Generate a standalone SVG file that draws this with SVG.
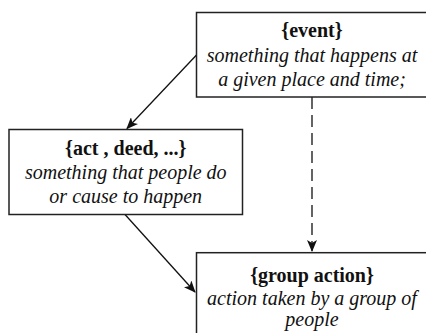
<svg xmlns="http://www.w3.org/2000/svg" width="426" height="333" viewBox="0 0 426 333">
<defs>
<marker id="ah" viewBox="0 0 12 10" refX="11" refY="5" markerWidth="12" markerHeight="10" markerUnits="userSpaceOnUse" orient="auto">
<path d="M0,0 L12,5 L0,10 L3,5 z" fill="#111"/>
</marker>
</defs>
<g id="connectors" fill="none" stroke="#111" stroke-width="1.3">
<line x1="196.5" y1="55" x2="127" y2="128.5" marker-end="url(#ah)"/>
<line x1="125" y1="214.5" x2="195" y2="292" marker-end="url(#ah)"/>
<line x1="312" y1="97" x2="312" y2="251" stroke-dasharray="12,6" marker-end="url(#ah)"/>
</g>
<g id="event">
<rect x="196.5" y="12.5" width="232" height="84.5" fill="#fff" stroke="#222" stroke-width="1.5"/>
<text x="312" y="37" font-family="'Liberation Serif', 'Times New Roman', serif" font-size="20" font-weight="bold" text-anchor="middle" fill="#111">{event}</text>
<text x="312" y="62" font-family="'Liberation Serif', 'Times New Roman', serif" font-size="20" font-style="italic" text-anchor="middle" fill="#111">something that happens at</text>
<text x="312" y="86" font-family="'Liberation Serif', 'Times New Roman', serif" font-size="20" font-style="italic" text-anchor="middle" fill="#111">a given place and time;</text>
</g>
<g id="act">
<rect x="9" y="129.5" width="233.5" height="85" fill="#fff" stroke="#222" stroke-width="1.5"/>
<text x="125.75" y="155" font-family="'Liberation Serif', 'Times New Roman', serif" font-size="20" font-weight="bold" text-anchor="middle" fill="#111">{act , deed, ...}</text>
<text x="125.75" y="179" font-family="'Liberation Serif', 'Times New Roman', serif" font-size="20" font-style="italic" text-anchor="middle" fill="#111">something that people do</text>
<text x="125.75" y="203" font-family="'Liberation Serif', 'Times New Roman', serif" font-size="20" font-style="italic" text-anchor="middle" fill="#111">or cause to happen</text>
</g>
<g id="group-action">
<rect x="196.5" y="252.7" width="232" height="90" fill="#fff" stroke="#222" stroke-width="1.5"/>
<text x="312" y="282" font-family="'Liberation Serif', 'Times New Roman', serif" font-size="20" font-weight="bold" text-anchor="middle" fill="#111">{group action}</text>
<text x="312" y="305" font-family="'Liberation Serif', 'Times New Roman', serif" font-size="20" font-style="italic" text-anchor="middle" fill="#111">action taken by a group of</text>
<text x="312" y="326" font-family="'Liberation Serif', 'Times New Roman', serif" font-size="20" font-style="italic" text-anchor="middle" fill="#111">people</text>
</g>
</svg>
